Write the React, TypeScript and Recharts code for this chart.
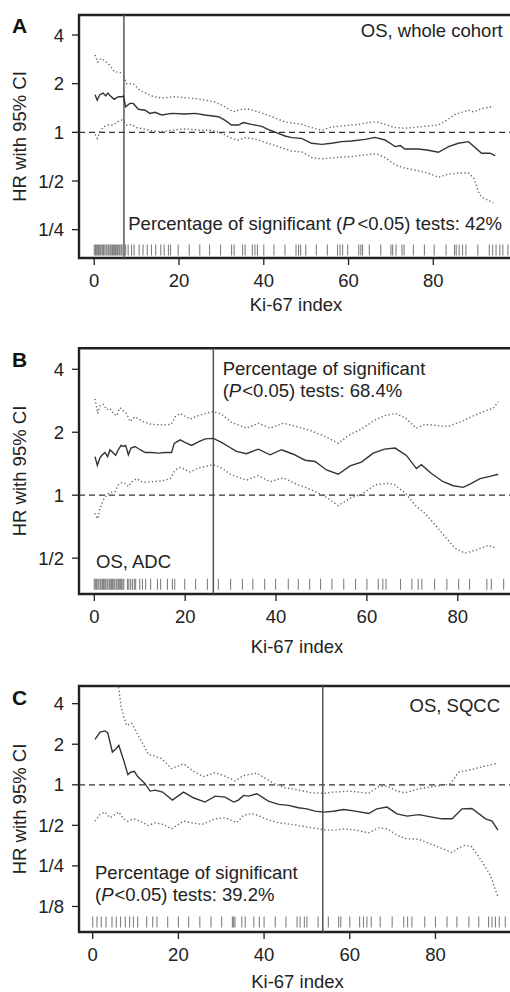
import React from "react";
import {
  ComposedChart,
  Line,
  Scatter,
  XAxis,
  YAxis,
  ReferenceLine,
  ReferenceArea,
} from "recharts";

// ---- panel A: OS, whole cohort ----
const aHrX = [0.2, 0.7, 1.3, 2.1, 2.7, 3.2, 3.7, 4.7, 5.7, 6.5, 6.9, 7.4, 8.4, 9.2, 10.4, 12, 13.1, 14.3, 15.9, 18.3, 21.4, 23.8, 26.1, 29.3, 30.8, 32.4, 34, 35.2, 37.1, 39.5, 41.5, 43.4, 45, 46.6, 48.9, 51.3, 53.7, 56, 58.4, 60.7, 63.9, 66.3, 68.6, 71, 72.2, 73.3, 76.5, 78.8, 81.2, 83.6, 85.9, 88.3, 91.4, 93.4, 94.6];
const aHr = [1.71, 1.58, 1.71, 1.75, 1.68, 1.75, 1.69, 1.6, 1.66, 1.66, 1.68, 1.44, 1.51, 1.51, 1.39, 1.37, 1.31, 1.33, 1.28, 1.31, 1.3, 1.31, 1.28, 1.25, 1.19, 1.11, 1.11, 1.15, 1.12, 1.09, 1.03, 0.985, 0.949, 0.927, 0.918, 0.856, 0.843, 0.856, 0.876, 0.884, 0.905, 0.931, 0.897, 0.816, 0.828, 0.789, 0.789, 0.775, 0.753, 0.816, 0.856, 0.876, 0.743, 0.743, 0.718];
const aUpX = [0.2, 0.8, 1.7, 2.7, 3.7, 4.7, 6.1, 6.9, 7.2, 7.6, 9.2, 10.8, 13.5, 15.9, 19, 22.2, 25.3, 28.5, 30.8, 32.8, 34.8, 36.4, 38.7, 41.9, 45, 49, 51.3, 53.7, 56, 59.2, 62.3, 64.7, 66.6, 68.6, 71, 73.3, 76.5, 81.2, 82.8, 85.1, 88.3, 89.5, 91.4, 94.2];
const aUp = [3.01, 2.72, 2.87, 2.74, 2.59, 2.38, 2.34, 2.34, 2.15, 2.0, 2.0, 1.82, 1.68, 1.63, 1.66, 1.63, 1.6, 1.54, 1.44, 1.34, 1.39, 1.39, 1.34, 1.25, 1.16, 1.12, 1.07, 1.03, 1.08, 1.1, 1.12, 1.15, 1.16, 1.12, 1.07, 1.06, 1.08, 1.11, 1.17, 1.29, 1.37, 1.34, 1.4, 1.45];
const aLoX = [0.2, 0.7, 1.3, 2.1, 3.3, 4.5, 5.7, 6.5, 7.1, 7.6, 8.8, 10, 11.6, 13.5, 15.9, 18.3, 21.4, 25.3, 27.7, 30.1, 32.4, 34, 35.6, 37.9, 40.3, 43.4, 46.6, 49.3, 51.3, 53.7, 56.8, 60.7, 63.9, 66.6, 68.6, 71, 73.3, 76.5, 78.8, 81.2, 83.6, 85.9, 88.3, 89.5, 90.6, 91.4, 94.2];
const aLo = [0.972, 0.918, 1.0, 1.08, 1.11, 1.11, 1.17, 1.19, 1.16, 1.11, 1.12, 1.07, 1.05, 1.02, 1.01, 1.03, 1.05, 1.03, 1.03, 0.985, 0.918, 0.897, 0.927, 0.91, 0.868, 0.816, 0.767, 0.753, 0.698, 0.685, 0.698, 0.708, 0.726, 0.736, 0.698, 0.63, 0.601, 0.578, 0.56, 0.527, 0.552, 0.56, 0.56, 0.522, 0.432, 0.397, 0.366];
const aRug = [0, 0.3, 0.5, 0.8, 1, 1.2, 1.5, 1.8, 2, 2.2, 2.5, 2.8, 3, 3.3, 3.5, 3.8, 4, 4.3, 4.5, 4.8, 5, 5.3, 5.5, 5.8, 6, 6.3, 6.5, 6.8, 7, 7.4, 8, 8.8, 9.4, 10.6, 11.5, 12.5, 13.5, 14.5, 15.7, 16.5, 17.5, 18, 19.8, 22.4, 24.9, 27.2, 29.8, 32.4, 33, 35, 35.6, 37.3, 37.9, 38.5, 40, 42.4, 45, 47.6, 48.2, 48.7, 49.9, 52.4, 55, 57.4, 58, 58.6, 59.8, 62.4, 62.9, 63.3, 64.9, 67.6, 70, 70.4, 71.2, 72.6, 73.1, 75.3, 77.9, 80.2, 83, 85, 85.4, 86.1, 86.9, 87.7, 90.5, 93.2, 94, 94.8, 95.7, 96.4, 97.6];

// ---- panel B: OS, ADC ----
const bHrX = [0.15, 0.67, 1.25, 1.77, 2.35, 2.94, 3.45, 4.19, 4.7, 5.29, 5.87, 6.39, 6.9, 7.49, 8.07, 8.95, 10.1, 11.2, 12.6, 14.1, 15.6, 17, 17.6, 18.9, 19.95, 21.4, 22.9, 24.4, 26.2, 28, 29.5, 31.3, 33.5, 36.1, 38.7, 41.2, 43.8, 46.4, 48.6, 51.1, 53.7, 56.3, 58.8, 61.4, 63.9, 66.2, 68.7, 70.9, 72, 74.2, 76.8, 79, 81.2, 83, 84.9, 87.1, 88.9];
const bHr = [1.53, 1.39, 1.51, 1.56, 1.6, 1.53, 1.65, 1.59, 1.55, 1.65, 1.73, 1.71, 1.73, 1.56, 1.68, 1.71, 1.65, 1.6, 1.6, 1.59, 1.6, 1.6, 1.77, 1.84, 1.79, 1.73, 1.8, 1.86, 1.87, 1.79, 1.71, 1.62, 1.58, 1.66, 1.56, 1.65, 1.57, 1.47, 1.45, 1.32, 1.26, 1.38, 1.44, 1.59, 1.66, 1.68, 1.55, 1.34, 1.4, 1.27, 1.16, 1.11, 1.09, 1.14, 1.2, 1.23, 1.26];
const bUpX = [0.15, 0.74, 1.25, 1.99, 2.72, 3.45, 4.19, 4.92, 5.65, 6.39, 7.12, 7.85, 8.95, 10.8, 12.6, 14.8, 16.9, 17.8, 18.9, 21.1, 22.9, 24.4, 26.2, 28, 30.2, 33.5, 36.1, 38.7, 41.6, 44.5, 47.8, 50.8, 53.7, 55.9, 58.8, 61.8, 63.9, 66.2, 68.4, 70.9, 72.8, 75.7, 77.9, 80.8, 83, 86, 87.8, 88.9];
const bUp = [2.89, 2.46, 2.68, 2.72, 2.56, 2.6, 2.46, 2.4, 2.62, 2.53, 2.46, 2.25, 2.37, 2.25, 2.18, 2.17, 2.18, 2.37, 2.46, 2.31, 2.4, 2.46, 2.51, 2.44, 2.23, 2.09, 2.21, 2.09, 2.21, 2.13, 2.03, 1.91, 1.77, 1.93, 2.07, 2.29, 2.4, 2.46, 2.35, 2.09, 2.18, 2.15, 2.13, 2.25, 2.37, 2.53, 2.6, 2.8];
const bLoX = [0.15, 0.74, 1.25, 1.99, 2.72, 3.45, 4.55, 5.29, 6.02, 6.75, 7.49, 8.22, 9.32, 10.8, 12.6, 14.8, 16.7, 17.8, 18.9, 21.1, 22.9, 24.4, 26.2, 28, 30.2, 33.5, 36.1, 38.7, 41.6, 44.9, 47.8, 50.8, 53.7, 56.3, 58.8, 61.8, 64.7, 66.2, 68.7, 70.9, 72.8, 75, 77.2, 79.4, 81.6, 84.1, 86.7, 88.5];
const bLo = [0.82, 0.771, 0.86, 0.949, 1.0, 1.03, 1.04, 1.12, 1.15, 1.14, 1.1, 1.16, 1.2, 1.15, 1.16, 1.17, 1.2, 1.32, 1.36, 1.29, 1.35, 1.37, 1.4, 1.35, 1.25, 1.18, 1.24, 1.16, 1.21, 1.12, 1.06, 0.986, 0.892, 0.967, 1.01, 1.12, 1.14, 1.12, 1.01, 0.883, 0.82, 0.721, 0.634, 0.558, 0.528, 0.548, 0.575, 0.558];
const bRug = [0, 0.3, 0.5, 0.8, 1, 1.3, 1.5, 1.8, 2, 2.3, 2.5, 2.8, 3, 3.3, 3.5, 3.8, 4, 4.3, 4.5, 4.8, 5, 5.3, 5.5, 5.8, 6, 6.3, 6.5, 7.3, 7.6, 8, 8.4, 8.8, 9.1, 10, 10.6, 11.3, 12.4, 13.9, 14.6, 16.1, 17.2, 17.7, 19.9, 22.3, 24.9, 27.3, 30, 32.6, 34.9, 37.5, 39.9, 42.7, 44.9, 47.4, 49.8, 52.3, 54.9, 57.5, 60, 62.5, 63.5, 64.2, 67.4, 69.9, 71.3, 72.1, 74.9, 77.6, 80.2, 82.6, 86.4, 87.4, 90.1];

// ---- panel C: OS, SQCC ----
const cHrX = [0.54, 1.71, 2.87, 3.5, 4.6, 5.4, 6.1, 7.4, 8.2, 8.9, 9.7, 10.5, 11.4, 12.2, 13.4, 14.6, 16.3, 18.6, 21.2, 23.5, 26.2, 28.6, 30.9, 32.9, 34, 35.2, 36.4, 38.3, 41, 43.4, 45.7, 48, 50, 51.9, 53.9, 56.2, 58.6, 61.3, 64.4, 66.3, 68.7, 71, 73.4, 76.1, 79.2, 81.5, 83.9, 86.2, 88.5, 91.7, 93.2, 94.6];
const cHr = [2.17, 2.46, 2.51, 2.44, 1.75, 1.85, 1.96, 1.46, 1.19, 1.24, 1.26, 1.15, 1.08, 1.02, 0.898, 0.913, 0.883, 0.77, 0.883, 0.801, 0.744, 0.824, 0.81, 0.744, 0.77, 0.834, 0.824, 0.858, 0.757, 0.715, 0.703, 0.675, 0.663, 0.638, 0.627, 0.636, 0.656, 0.638, 0.612, 0.663, 0.683, 0.609, 0.585, 0.6, 0.575, 0.559, 0.559, 0.663, 0.667, 0.559, 0.537, 0.461];
const cUpX = [5.4, 6.0, 6.6, 7.2, 7.9, 9.1, 10.3, 11.8, 13, 14.6, 16.1, 18.4, 21.2, 23.5, 25.8, 28.6, 30.9, 33.2, 35.2, 38.3, 40.6, 42.6, 44.9, 48, 51.2, 53.9, 56.2, 59.7, 62.1, 64.4, 66.7, 68.7, 71, 72.9, 76.1, 79.2, 81.5, 83.5, 85.4, 88.5, 91.7, 94.4];
const cUp = [6.8, 5.41, 3.85, 3.24, 2.76, 2.86, 2.43, 1.99, 1.68, 1.63, 1.56, 1.32, 1.43, 1.26, 1.15, 1.23, 1.16, 1.07, 1.17, 1.22, 1.1, 1.01, 0.951, 0.913, 0.872, 0.863, 0.883, 0.898, 0.883, 0.863, 0.967, 0.978, 0.898, 0.872, 0.934, 0.967, 0.989, 1.02, 1.24, 1.3, 1.38, 1.44];
const cLoX = [0.54, 1.71, 2.87, 4.04, 5.2, 6.1, 7.2, 8.2, 9.5, 11.1, 13, 14.6, 16.5, 18.4, 21.2, 23.1, 25.5, 28.6, 30.9, 33.6, 35.2, 37.1, 38.7, 40.6, 43.4, 46.5, 49.6, 52.7, 54.3, 56.6, 58.6, 61.3, 64.4, 66.7, 68.7, 71, 72.9, 76.1, 79.2, 81.5, 83.9, 85.4, 87, 88.5, 90.9, 92.8, 94.6];
const cLo = [0.537, 0.603, 0.627, 0.569, 0.603, 0.627, 0.559, 0.537, 0.559, 0.537, 0.499, 0.522, 0.508, 0.471, 0.537, 0.522, 0.508, 0.559, 0.569, 0.525, 0.592, 0.612, 0.592, 0.553, 0.522, 0.508, 0.488, 0.471, 0.461, 0.461, 0.471, 0.461, 0.44, 0.479, 0.471, 0.423, 0.399, 0.394, 0.36, 0.337, 0.314, 0.34, 0.356, 0.347, 0.268, 0.213, 0.147];
const cRug = [0, 1, 2, 3.1, 4.5, 5.5, 6.5, 7.6, 8.6, 9.5, 10.5, 12.6, 14, 15, 17.5, 20, 22.4, 25, 27.6, 30.1, 32.6, 32.9, 33.2, 34.8, 35.6, 37.6, 38.9, 40, 42.6, 45.1, 47.7, 48.4, 49.4, 50, 52.6, 55, 57.4, 57.9, 60, 62.3, 63.2, 64, 65, 67.1, 69.9, 72.6, 73.5, 74.5, 77.5, 80, 82.7, 85, 87.8, 90.1, 92.4, 93.2, 94, 94.9, 96.3];

const xTicks = [0, 20, 40, 60, 80];
const FONT = "'Liberation Sans', Arial, sans-serif";
const INK = "#222";
const FS = 18.5;

const zip = (xs: number[], ys: number[]) => xs.map((x, i) => ({ x, y: ys[i] }));
const fmtHR = (v: number) => (v >= 1 ? String(v) : "1/" + Math.round(1 / v));

const RugTick = (p: any) => (
  <line x1={p.cx} x2={p.cx} y1={p.cy - 5.5} y2={p.cy + 5.5} stroke="#808080" strokeWidth={1.1} />
);

const PText = ({ x, y, anchor = "start", children }: any) => (
  <text x={x} y={y} textAnchor={anchor} fontSize={FS} fill={INK} fontFamily={FONT}>
    {children}
  </text>
);

const PVal = ({ x, y, anchor, pct, oneLine }: any) => {
  if (oneLine)
    return (
      <PText x={x} y={y} anchor={anchor}>
        {"Percentage of significant ("}
        <tspan fontStyle="italic">P</tspan>
        <tspan dx={3}>{"<0.05) tests: " + pct}</tspan>
      </PText>
    );
  return (
    <g>
      <PText x={x} y={y}>Percentage of significant</PText>
      <PText x={x} y={y + 21.5}>
        {"("}
        <tspan fontStyle="italic">P</tspan>
        <tspan dx={1}>{"<0.05) tests: " + pct}</tspan>
      </PText>
    </g>
  );
};

function Panel(props: any) {
  const {
    top, height, marginTop, width, xDomain, yDomain, yTicks, rugY, rug, cut,
    hr, up, lo, letter, letterY, yLabelY, xLabelY, children,
  } = props;
  const xMid = (79 + width) / 2;
  return (
    <div style={{ position: "absolute", left: 0, top }}>
      <ComposedChart width={width} height={height} margin={{ top: marginTop, right: 0, bottom: 0, left: 0 }}>
        <XAxis
          type="number"
          dataKey="x"
          domain={xDomain}
          allowDataOverflow
          ticks={xTicks}
          tickSize={7}
          tickMargin={9}
          height={62}
          axisLine={false}
          tickLine={{ stroke: INK, strokeWidth: 1.3 }}
          tick={{ fontSize: FS, fill: INK, fontFamily: FONT }}
        />
        <YAxis
          type="number"
          dataKey="y"
          scale="log"
          domain={yDomain}
          allowDataOverflow
          ticks={yTicks}
          tickFormatter={fmtHR}
          width={79}
          tickSize={7}
          tickMargin={8}
          axisLine={false}
          tickLine={{ stroke: INK, strokeWidth: 1.3 }}
          tick={{ fontSize: FS, fill: INK, fontFamily: FONT }}
        />
        <ReferenceArea
          x1={xDomain[0]}
          x2={xDomain[1]}
          y1={yDomain[0]}
          y2={yDomain[1]}
          fill="none"
          stroke={INK}
          strokeWidth={2.4}
        />
        <ReferenceLine y={1} stroke="#333" strokeWidth={1.2} strokeDasharray="6 4" />
        <ReferenceLine x={cut} stroke="#555" strokeWidth={1.5} />
        <Scatter data={rug.map((x: number) => ({ x, y: rugY }))} shape={RugTick} isAnimationActive={false} />
        <Line data={zip(up[0], up[1])} dataKey="y" type="linear" stroke="#666" strokeWidth={1.4} strokeDasharray="1.3 2.4" dot={false} isAnimationActive={false} />
        <Line data={zip(lo[0], lo[1])} dataKey="y" type="linear" stroke="#666" strokeWidth={1.4} strokeDasharray="1.3 2.4" dot={false} isAnimationActive={false} />
        <Line data={zip(hr[0], hr[1])} dataKey="y" type="linear" stroke="#333" strokeWidth={1.4} dot={false} isAnimationActive={false} />
        <text x={12} y={letterY} fontSize={21} fontWeight="bold" fill="#111" fontFamily={FONT}>
          {letter}
        </text>
        <text
          x={26}
          y={yLabelY}
          textAnchor="middle"
          transform={`rotate(-90 26 ${yLabelY})`}
          fontSize={FS}
          fill={INK}
          fontFamily={FONT}
        >
          HR with 95% CI
        </text>
        <PText x={xMid} y={xLabelY} anchor="middle">Ki-67 index</PText>
        {children}
      </ComposedChart>
    </div>
  );
}

export default function App() {
  return (
    <div
      style={{
        position: "fixed",
        left: 0,
        top: 0,
        width: 510,
        height: 992,
        overflow: "hidden",
        background: "#fff",
        fontFamily: FONT,
      }}
    >
      <Panel
        top={0}
        height={320}
        marginTop={15}
        width={513}
        xDomain={[-3.6, 98.8]}
        yDomain={[0.167, 5.32]}
        yTicks={[0.25, 0.5, 1, 2, 4]}
        rugY={0.187}
        rug={aRug}
        cut={7}
        hr={[aHrX, aHr]}
        up={[aUpX, aUp]}
        lo={[aLoX, aLo]}
        letter="A"
        letterY={33.3}
        yLabelY={136.5}
        xLabelY={310.7}
      >
        <PText x={502.7} y={37} anchor="end">OS, whole cohort</PText>
        <PVal x={502} y={229.5} anchor="end" pct="42%" oneLine />
      </Panel>
      <Panel
        top={330}
        height={326}
        marginTop={18.3}
        width={515}
        xDomain={[-3.37, 92.6]}
        yDomain={[0.337, 5.04]}
        yTicks={[0.5, 1, 2, 4]}
        rugY={0.375}
        rug={bRug}
        cut={26.2}
        hr={[bHrX, bHr]}
        up={[bUpX, bUp]}
        lo={[bLoX, bLo]}
        letter="B"
        letterY={36.7}
        yLabelY={141}
        xLabelY={322.7}
      >
        <PVal x={222.7} y={45} pct="68.4%" />
        <PText x={96} y={238.3}>OS, ADC</PText>
      </Panel>
      <Panel
        top={668}
        height={326}
        marginTop={18}
        width={516}
        xDomain={[-3.2, 98.8]}
        yDomain={[0.0808, 5.41]}
        yTicks={[0.125, 0.25, 0.5, 1, 2, 4]}
        rugY={0.096}
        rug={cRug}
        cut={53.7}
        hr={[cHrX, cHr]}
        up={[cUpX, cUp]}
        lo={[cLoX, cLo]}
        letter="C"
        letterY={37}
        yLabelY={141}
        xLabelY={320.3}
      >
        <PText x={500} y={43.7} anchor="end">OS, SQCC</PText>
        <PVal x={95} y={211.3} pct="39.2%" />
      </Panel>
    </div>
  );
}
